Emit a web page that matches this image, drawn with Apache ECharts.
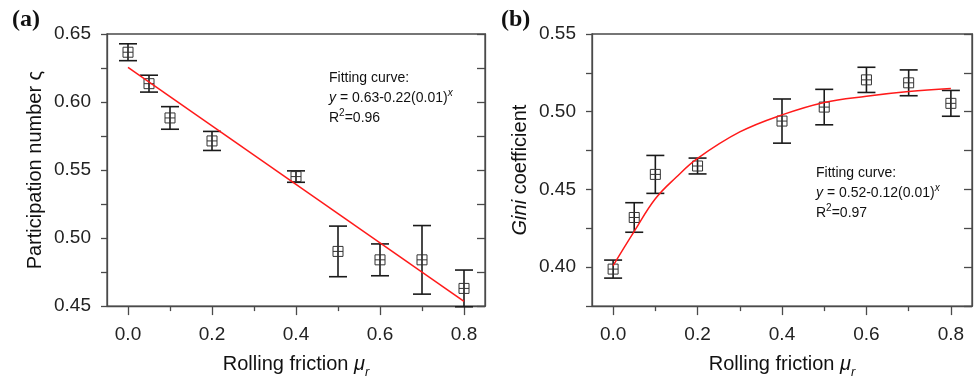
<!DOCTYPE html>
<html>
<head>
<meta charset="utf-8">
<script src="https://cdn.jsdelivr.net/npm/echarts@6/dist/echarts.min.js"></script>
<style>html,body{margin:0;padding:0;background:#fff}#c{width:976px;height:384px}</style>
</head>
<body>
<div id="c"></div>
<script>
// ---- data ----
const frictionX = [0, 0.05, 0.1, 0.2, 0.4, 0.5, 0.6, 0.7, 0.8];
const participation = [0.6366, 0.6135, 0.5883, 0.5714, 0.5452, 0.4902, 0.4840, 0.4840, 0.4630];
const participationErr = [0.0062, 0.0062, 0.0083, 0.0070, 0.0042, 0.0186, 0.0117, 0.0252, 0.0135];
const gini = [0.3988, 0.4320, 0.4597, 0.4651, 0.4940, 0.5030, 0.5205, 0.5186, 0.5054];
const giniErr = [0.0058, 0.0095, 0.0122, 0.0051, 0.0142, 0.0114, 0.0081, 0.0083, 0.0083];
const fitAX = [0, 0.8];
const fitAY = [0.6254, 0.4534];
const fitBX = [0, 0.05, 0.1, 0.15, 0.2, 0.3, 0.4, 0.5, 0.6, 0.7, 0.8];
const fitBY = [0.401, 0.423, 0.444, 0.458, 0.470, 0.487, 0.498, 0.506, 0.510, 0.513, 0.515];
const xMajorTicks = [0, 0.2, 0.4, 0.6, 0.8];
const xMinorTicks = [0.1, 0.3, 0.5, 0.7];

const FONT = 'Liberation Sans, Arial, sans-serif';
const AX = '#4a4a4a';
const chart = echarts.init(document.getElementById('c'));

function errRender(params, api) {
  const x = api.value(0), y = api.value(1), e = api.value(2);
  const c = api.coord([x, y]);
  const t = api.coord([x, y + e]);
  const b = api.coord([x, y - e]);
  const cap = 9, s = 5;
  const ls = {stroke: '#1a1a1a', lineWidth: 1.6};
  const ms = {stroke: '#333', lineWidth: 1, fill: 'none'};
  return {type: 'group', children: [
    {type: 'line', shape: {x1: t[0], y1: t[1], x2: b[0], y2: b[1]}, style: ls},
    {type: 'line', shape: {x1: t[0] - cap, y1: t[1], x2: t[0] + cap, y2: t[1]}, style: ls},
    {type: 'line', shape: {x1: b[0] - cap, y1: b[1], x2: b[0] + cap, y2: b[1]}, style: ls},
    {type: 'rect', shape: {x: c[0] - s, y: c[1] - s, width: 2 * s, height: 2 * s}, style: ms},
    {type: 'line', shape: {x1: c[0] - s, y1: c[1], x2: c[0] + s, y2: c[1]}, style: ms}
  ]};
}

function xMain(grid) {
  return {
    type: 'value', gridIndex: grid, min: -0.05, max: 0.85, position: 'bottom',
    axisLine: {onZero: false, lineStyle: {color: AX, width: 1.3}},
    axisTick: {customValues: xMajorTicks, length: 9, lineStyle: {color: AX, width: 1.3}},
    axisLabel: {customValues: xMajorTicks, margin: 19, fontSize: 19, fontFamily: FONT, color: '#222',
      formatter: v => v.toFixed(1)},
    splitLine: {show: false},
    name: 'Rolling friction {i|μ}{sub|r}', nameLocation: 'middle', nameGap: 52,
    nameTextStyle: {fontSize: 20, fontFamily: FONT, color: '#111', lineHeight: 30, verticalAlign: 'middle',
      rich: {
        i: {fontSize: 20, fontStyle: 'italic', fontFamily: FONT, color: '#111', lineHeight: 30, verticalAlign: 'middle'},
        sub: {fontSize: 13, fontStyle: 'italic', fontFamily: FONT, color: '#111', lineHeight: 13, verticalAlign: 'bottom'}
      }}
  };
}
function xMinor(grid) {
  return {
    type: 'value', gridIndex: grid, min: -0.05, max: 0.85, position: 'bottom',
    axisLine: {show: false, onZero: false},
    axisTick: {customValues: xMinorTicks, length: 5, lineStyle: {color: AX, width: 1.3}},
    axisLabel: {show: false}, splitLine: {show: false}
  };
}
function yLeft(grid, min, max, name, nameRich) {
  return {
    type: 'value', gridIndex: grid, min: min, max: max, interval: 0.025, position: 'left',
    axisLine: {show: true, onZero: false, lineStyle: {color: AX, width: 1.3}},
    axisTick: {show: true, length: 6, lineStyle: {color: AX, width: 1.3}},
    axisLabel: {margin: 16, fontSize: 19, fontFamily: FONT, color: '#222',
      formatter: v => (Math.abs(v / 0.05 - Math.round(v / 0.05)) < 1e-6 ? v.toFixed(2) : '')},
    splitLine: {show: false},
    name: name, nameLocation: 'middle', nameGap: 62,
    nameTextStyle: {fontSize: 20, fontFamily: FONT, color: '#111', rich: nameRich}
  };
}
function yRight(grid, min, max) {
  return {
    type: 'value', gridIndex: grid, min: min, max: max, interval: 0.025, position: 'right',
    axisLine: {show: true, onZero: false, lineStyle: {color: AX, width: 1.3}},
    axisTick: {show: true, inside: true, length: 8, lineStyle: {color: AX, width: 1.3}},
    axisLabel: {show: false}, splitLine: {show: false}
  };
}

const annRich = {
  i: {font: 'italic 14px ' + FONT, fill: '#111', lineHeight: 20},
  sup: {font: '10px ' + FONT, fill: '#111', lineHeight: 12, verticalAlign: 'top'},
  supi: {font: 'italic 10px ' + FONT, fill: '#111', lineHeight: 12, verticalAlign: 'top'}
};

const option = {
  animation: false,
  backgroundColor: '#fff',
  grid: [
    {left: 107, top: 34, width: 378, height: 274, show: true, borderColor: AX, borderWidth: 1.3, backgroundColor: 'transparent'},
    {left: 592, top: 34, width: 380, height: 274, show: true, borderColor: AX, borderWidth: 1.3, backgroundColor: 'transparent'}
  ],
  xAxis: [xMain(0), xMinor(0), xMain(1), xMinor(1)],
  yAxis: [
    yLeft(0, 0.45, 0.65, 'Participation number ς'),
    yRight(0, 0.45, 0.65),
    yLeft(1, 0.375, 0.55, '{i|Gini} coefficient', {i: {fontSize: 20, fontStyle: 'italic', fontFamily: FONT, color: '#111'}}),
    yRight(1, 0.375, 0.55)
  ],
  series: [
    {type: 'custom', xAxisIndex: 0, yAxisIndex: 0, renderItem: errRender, clip: false,
      data: frictionX.map((x, i) => [x, participation[i], participationErr[i]]), encode: {x: 0, y: 1}, z: 2},
    {type: 'line', xAxisIndex: 0, yAxisIndex: 0, showSymbol: false, symbol: 'none',
      lineStyle: {color: '#ff1a1a', width: 1.5}, data: fitAX.map((x, i) => [x, fitAY[i]]), z: 3},
    {type: 'custom', xAxisIndex: 2, yAxisIndex: 2, renderItem: errRender, clip: false,
      data: frictionX.map((x, i) => [x, gini[i], giniErr[i]]), encode: {x: 0, y: 1}, z: 2},
    {type: 'line', xAxisIndex: 2, yAxisIndex: 2, showSymbol: false, symbol: 'none', smooth: 0.4,
      lineStyle: {color: '#ff1a1a', width: 1.5}, data: fitBX.map((x, i) => [x, fitBY[i]]), z: 3}
  ],
  graphic: [
    {type: 'text', left: 12, top: 8, style: {text: '(a)', font: 'bold 24px "Liberation Serif", "Times New Roman", serif', fill: '#111'}},
    {type: 'text', left: 501, top: 8, style: {text: '(b)', font: 'bold 24px "Liberation Serif", "Times New Roman", serif', fill: '#111'}},
    {type: 'text', left: 329, top: 68, style: {
      text: 'Fitting curve:\n{i|y} = 0.63-0.22(0.01){supi|x}\nR{sup|2}=0.96',
      font: '14px ' + FONT, fill: '#111', lineHeight: 20, rich: annRich}},
    {type: 'text', left: 816, top: 163, style: {
      text: 'Fitting curve:\n{i|y} = 0.52-0.12(0.01){supi|x}\nR{sup|2}=0.97',
      font: '14px ' + FONT, fill: '#111', lineHeight: 20, rich: annRich}}
  ]
};
chart.setOption(option);
</script>
</body>
</html>
